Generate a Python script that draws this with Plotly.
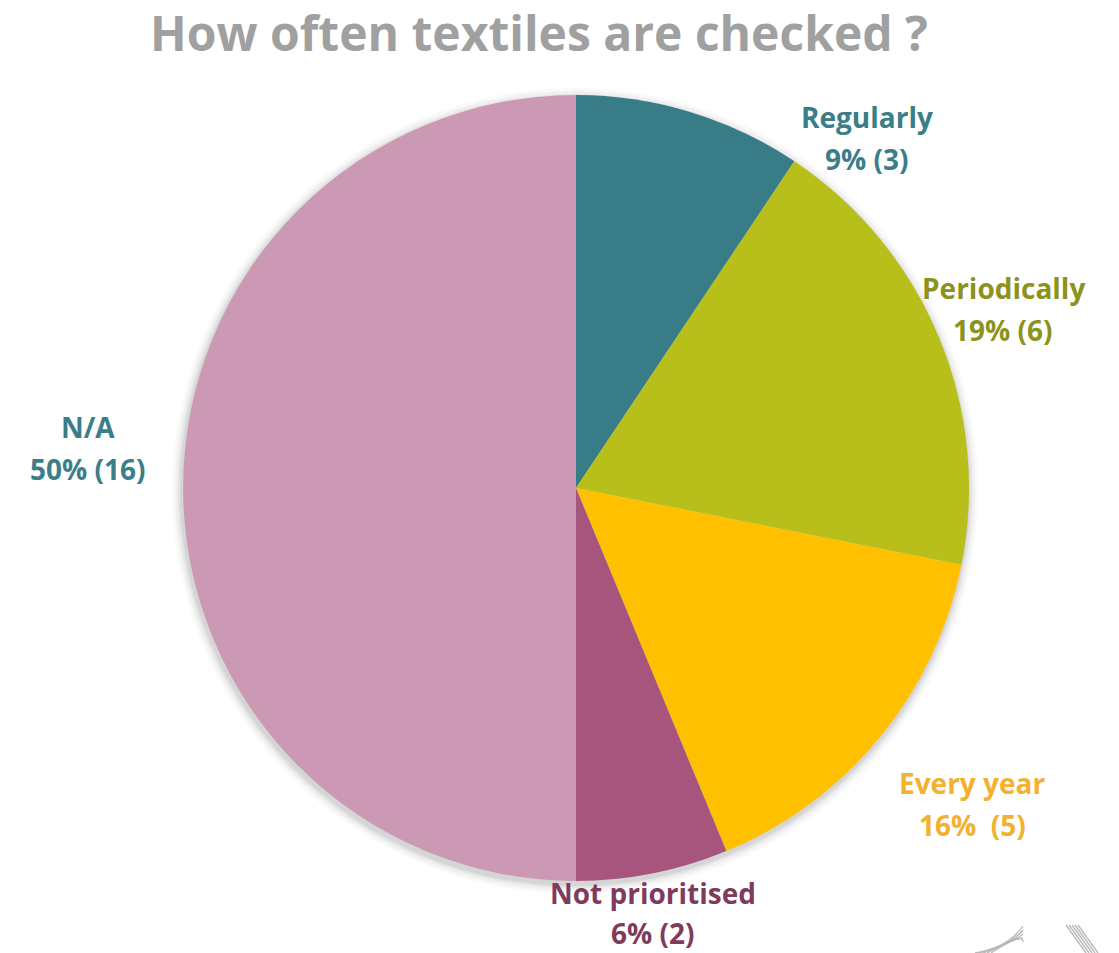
import plotly.graph_objects as go

# Survey answers: how often textiles are checked
categories = ["Regularly", "Periodically", "Every year", "Not prioritised", "N/A"]
counts = [3, 6, 5, 2, 16]
percent_labels = ["9% (3)", "19% (6)", "16%  (5)", "6% (2)", "50% (16)"]
slice_colors = ["#387C87", "#B8BF1A", "#FFC000", "#A8557E", "#CB99B3"]
label_colors = ["#3B7E88", "#8C931C", "#F3B130", "#7F3B5C", "#3B7E88"]
# label centre (px from left) and first-line centre (px from top) for each category
label_px = [867, 1003, 972, 653, 88]
label_py = [115, 286, 781, 891, 425]
label_gap = [42, 42, 42, 40, 42]

W, H = 1119, 953
cx, cy, r = 576, 488, 393

dom_x = [(cx - r) / W, (cx + r) / W]
dom_y = [1 - (cy + r) / H, 1 - (cy - r) / H]

fig = go.Figure()

# soft shadow under the pie
for grow, alpha in [(10, 0.025), (7, 0.035), (4, 0.05), (2, 0.06)]:
    rr = r + grow
    dx, dy = -1, 3
    fig.add_trace(go.Pie(
        values=[1], labels=["shadow"], sort=False,
        marker=dict(colors=[f"rgba(0,0,0,{alpha})"], line=dict(width=0)),
        textinfo="none", hoverinfo="skip", showlegend=False,
        domain=dict(x=[(cx + dx - rr) / W, (cx + dx + rr) / W],
                    y=[1 - (cy + dy + rr) / H, 1 - (cy + dy - rr) / H]),
    ))

fig.add_trace(go.Pie(
    labels=categories, values=counts, sort=False, direction="clockwise",
    rotation=0,
    marker=dict(colors=slice_colors, line=dict(width=0)),
    textinfo="none", showlegend=False,
    domain=dict(x=dom_x, y=dom_y),
))

font_family = "'Open Sans', sans-serif"
for name, pct, col, px, py, gap in zip(categories, percent_labels, label_colors,
                                        label_px, label_py, label_gap):
    for line, yy in ((name, py), (pct, py + gap)):
        fig.add_annotation(
            x=px / W, y=1 - (yy + 2) / H, xref="paper", yref="paper", showarrow=False,
            text=line, align="center",
            font=dict(family=font_family, size=28, color=col, weight="bold"),
            xanchor="center", yanchor="middle",
        )

fig.update_layout(
    width=W, height=H,
    margin=dict(l=0, r=0, t=0, b=0),
    paper_bgcolor="white", plot_bgcolor="white",
    title=dict(
        text="How often textiles are checked ?",
        x=539 / W, xanchor="center", y=1 - 34 / H, yanchor="middle",
        font=dict(family=font_family, size=48, color="#A0A0A0", weight="bold"),
    ),
)

# small grey emblem in the bottom-right corner
for k in range(5):
    off = k * 4
    x0, y0 = 975 + off, 953
    xm, ym = 1008 + off, 948 - off
    x1, y1 = 1023, 926 + off
    fig.add_shape(type="path",
                  path=f"M {x0 / W} {1 - y0 / H} Q {xm / W} {1 - ym / H} {x1 / W} {1 - y1 / H}",
                  xref="paper", yref="paper", line=dict(color="#B8B8B8", width=1.3))
for k in range(5):
    x0 = 1066 + k * 3
    fig.add_shape(type="line", x0=x0 / W, y0=1 - 925 / H, x1=(x0 + 20) / W, y1=1 - 953 / H,
                  xref="paper", yref="paper", line=dict(color="#B8B8B8", width=1.3))

fig.write_html("out.html")
